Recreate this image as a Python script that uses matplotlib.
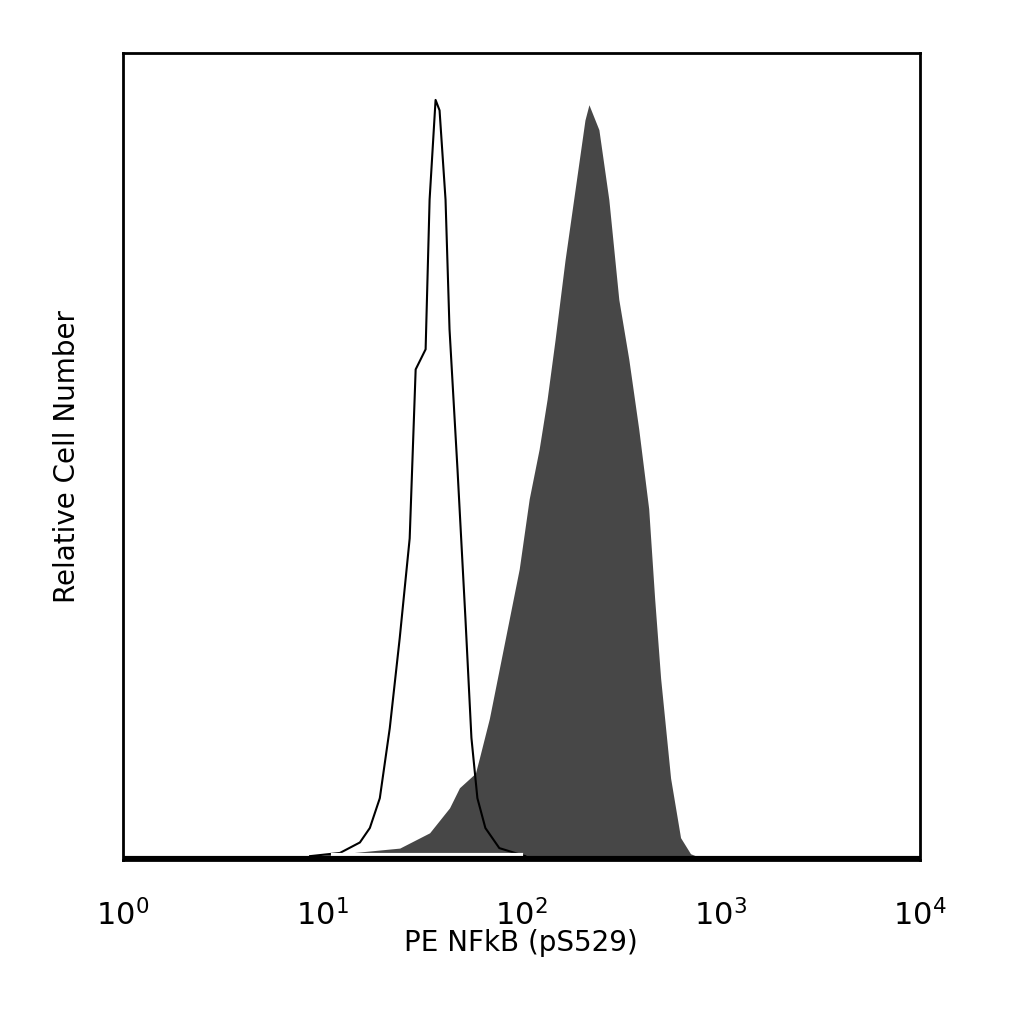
import matplotlib.pyplot as plt
import numpy as np

# isotype control (open) histogram: log10 intensity vs relative count
ctrl_log = [0.94, 1.09, 1.19, 1.24, 1.29, 1.34, 1.39, 1.44, 1.47, 1.52, 1.54, 1.57,
            1.59, 1.62, 1.64, 1.68, 1.72, 1.75, 1.78, 1.82, 1.89, 2.02]
ctrl_cnt = [0.2, 0.6, 1.9, 3.7, 7.4, 16.1, 27.3, 39.7, 60.7, 63.2, 81.8, 94.2,
            92.9, 81.8, 65.7, 48.3, 29.7, 14.9, 7.4, 3.7, 1.2, 0.2]

# stained (filled) histogram
stain_log = [0.94, 1.14, 1.39, 1.54, 1.64, 1.69, 1.77, 1.79, 1.84, 1.89, 1.94, 1.99,
             2.04, 2.09, 2.13, 2.17, 2.22, 2.27, 2.32, 2.34, 2.39, 2.44, 2.49, 2.54,
             2.59, 2.64, 2.67, 2.70, 2.75, 2.80, 2.85, 2.90]
stain_cnt = [0.2, 0.6, 1.2, 3.1, 6.2, 8.7, 10.5, 12.4, 17.3, 23.5, 29.7, 35.9,
             44.6, 50.8, 57.0, 64.4, 74.3, 83.0, 91.7, 93.6, 90.5, 81.8, 69.4, 62.0,
             53.3, 43.4, 32.2, 22.3, 9.9, 2.5, 0.5, 0.0]

xtick_vals = [1, 10, 100, 1000, 10000]
xtick_labels = [r'$10^0$', r'$10^1$', r'$10^2$', r'$10^3$', r'$10^4$']

fig = plt.figure(figsize=(10.24, 10.24), dpi=100)
ax = fig.add_axes([0.12, 0.16, 0.778, 0.788])

sx = 10 ** np.array(stain_log)
cx = 10 ** np.array(ctrl_log)
ax.fill_between(sx, 0, stain_cnt, color='#474747', lw=0)
ax.plot(cx, ctrl_cnt, color='black', lw=1.5)
ax.plot([cx[0] * 1.3, cx[-1] * 0.95], [0.4, 0.4], color='white', lw=3)
ax.axhline(0, color='black', lw=3)

ax.set_xscale('log')
ax.set_xlim(1, 10000)
ax.set_ylim(-0.3, 100)
ax.set_xticks(xtick_vals)
ax.set_xticklabels(xtick_labels, fontsize=22)
ax.minorticks_off()
ax.set_yticks([])
ax.tick_params(axis='x', length=0, pad=28)
for s in ax.spines.values():
    s.set_linewidth(2)
ax.set_xlabel('PE NFkB (pS529)', fontsize=20, labelpad=-2)
ax.set_ylabel('Relative Cell Number', fontsize=20, labelpad=30)

fig.savefig('out.png')
